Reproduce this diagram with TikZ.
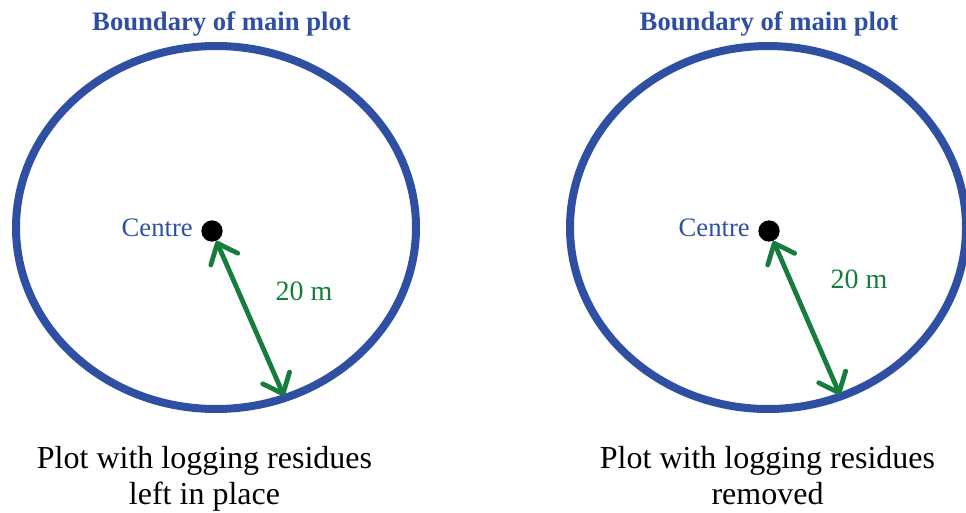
\documentclass[tikz,border=0pt]{standalone}
\usepackage{fontspec}
\setmainfont{Liberation Serif}
\usetikzlibrary{arrows.meta}
\definecolor{plotblue}{RGB}{47,80,162}
\definecolor{tapegreen}{RGB}{22,125,62}

\begin{document}
\begin{tikzpicture}[x=0.75pt,y=-0.75pt,
  boundary/.style={draw=plotblue,line width=6pt},
  radius arrow/.style={draw=tapegreen,line width=3.6pt,line cap=round,
    {Straight Barb[length=13pt,width=22pt,round]}-{Straight Barb[length=13pt,width=22pt,round]}},
  textlab/.style={inner sep=0pt,anchor=base}]
\useasboundingbox (0,0) rectangle (966,512);
\foreach \i/\cx/\rx/\dx/\ex/\ey/\mx/\my/\tx/\px/\sub in {
  l/216/200/212/284/396/304/300/221.5/204.5/left in place,
  r/768/198/769/840/395/859/288/769/767.5/removed}{
  \draw[boundary] (\cx,227.5) ellipse [x radius=\rx, y radius=181.5];
  \node[textlab,text=plotblue,font=\fontsize{20}{24}\selectfont\bfseries] (title\i) at (\tx,30) {Boundary of main plot};
  \node[circle,fill=black,inner sep=0pt,minimum size=16pt] (dot\i) at (\dx,231) {};
  \node[textlab,anchor=base east,text=plotblue,font=\fontsize{20}{24}\selectfont] (centre\i) at (\dx-19,236) {Centre};
  \coordinate (rim\i) at (\ex,\ey);
  \draw[radius arrow] (dot\i) -- (rim\i);
  \node[textlab,text=tapegreen,font=\fontsize{21}{25}\selectfont] (dist\i) at (\mx,\my) {20 m};
  % base of a two-line node is its last line
  \node[textlab,align=center,font=\fontsize{24}{27}\selectfont] (caption\i) at (\px,504) {Plot with logging residues\\\sub};
}
\end{tikzpicture}
\end{document}
